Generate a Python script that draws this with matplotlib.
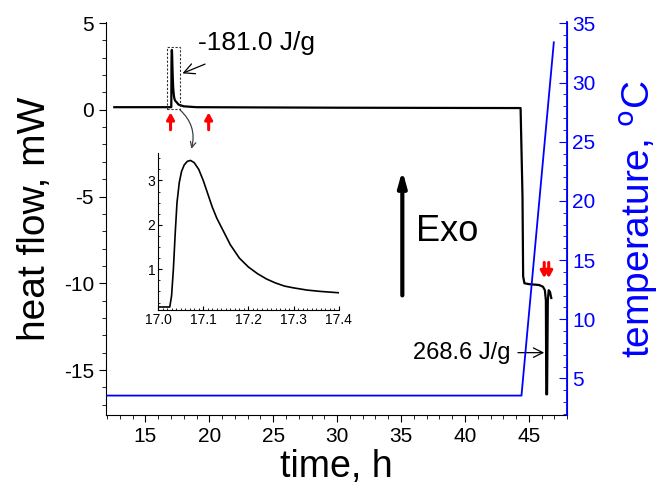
import numpy as np
import matplotlib
matplotlib.use("Agg")
import matplotlib.pyplot as plt
from matplotlib.ticker import MultipleLocator
from matplotlib.patches import Rectangle

plt.rcParams['font.family'] = ['Liberation Sans', 'DejaVu Sans']
plt.rcParams['axes.unicode_minus'] = False

# heat flow (mW) vs time (h)
t_hf = [12.57, 16.5, 17.0, 17.026, 17.030, 17.034, 17.038, 17.042, 17.047, 17.052,
        17.058, 17.065, 17.072, 17.08, 17.09, 17.10, 17.11, 17.12, 17.13, 17.145,
        17.16, 17.18, 17.20, 17.22, 17.24, 17.26, 17.28, 17.30, 17.33, 17.36,
        17.40, 17.6, 18.0, 19.0, 30.0, 44.35, 44.5, 44.55, 44.65, 45.0,
        45.8, 46.1, 46.25, 46.33, 46.36, 46.42, 46.48, 46.55, 46.65, 46.75]
hf = [0.15, 0.15, 0.15, 0.15, 0.4, 1.0, 1.8, 2.5, 2.95, 3.2,
      3.35, 3.43, 3.45, 3.4, 3.25, 3.0, 2.7, 2.4, 2.15, 1.85,
      1.55, 1.25, 1.05, 0.9, 0.78, 0.69, 0.62, 0.58, 0.53, 0.5,
      0.47, 0.3, 0.2, 0.15, 0.12, 0.1, -5.0, -9.6, -10.0, -10.05,
      -10.1, -10.2, -10.4, -11.0, -16.4, -16.4, -11.0, -10.4, -10.5, -10.85]

# temperature (C) vs time (h)
t_temp = [12.0, 44.42, 46.95]
temp = [3.55, 3.55, 33.4]

# integrated heats
label_melt = "-181.0 J/g"
label_cryst = "268.6 J/g"

fig = plt.figure(figsize=(6.65, 4.93), dpi=100)
ax1 = fig.add_axes([0.159, 0.158, 0.694, 0.797])
ax2 = ax1.twinx()

ax1.plot(t_hf, hf, color="black", lw=1.6, zorder=3)
ax2.plot(t_temp, temp, color="blue", lw=1.3)

ax1.set_xlim(11.9, 48)
ax1.set_ylim(-17.6, 5.05)
ax2.set_ylim(1.9, 35.1)

ax1.xaxis.set_major_locator(MultipleLocator(5))
ax1.xaxis.set_minor_locator(MultipleLocator(1))
ax1.yaxis.set_major_locator(MultipleLocator(5))
ax1.yaxis.set_minor_locator(MultipleLocator(1))
ax2.yaxis.set_major_locator(MultipleLocator(5))
ax2.yaxis.set_minor_locator(MultipleLocator(1))

for a in (ax1, ax2):
    a.spines["top"].set_visible(False)
ax2.spines["left"].set_visible(False)
ax2.spines["bottom"].set_visible(False)
ax2.spines["right"].set_color("blue")
ax2.spines["right"].set_linewidth(1.3)

ax1.tick_params(which="major", direction="out", length=5, labelsize=15)
ax1.tick_params(which="minor", direction="out", length=3)
ax2.tick_params(axis="y", which="major", direction="in", length=6, colors="blue", labelsize=15)
ax2.tick_params(axis="y", which="minor", direction="in", length=3, colors="blue")

ax1.set_xlabel("time, h", fontsize=27, labelpad=2)
ax1.set_ylabel("heat flow, mW", fontsize=28, labelpad=8)
ax2.set_ylabel("temperature, $^{\\mathrm{o}}$C", fontsize=28, color="blue", labelpad=16)

# dashed box around the first peak
ax1.add_patch(Rectangle((16.7, 0.06), 1.0, 3.56, fill=False, ls=(0, (2, 1.5)),
                        lw=0.8, color="0.2", zorder=4))

ax1.annotate(label_melt, xy=(17.9, 2.1), xytext=(23.7, 3.85), fontsize=19,
             ha="center", va="center",
             arrowprops=dict(arrowstyle="->", color="black", lw=0.9,
                             shrinkA=12, shrinkB=0))
ax1.annotate("", xy=(18.6, -2.25), xytext=(17.7, 0.0),
             arrowprops=dict(arrowstyle="->", color="0.25", lw=0.9,
                             connectionstyle="arc3,rad=-0.3", shrinkA=0, shrinkB=0))

ax1.annotate(label_cryst, xy=(46.2, -14.0), xytext=(43.6, -14.0), fontsize=17,
             ha="right", va="center",
             arrowprops=dict(arrowstyle="->", color="black", lw=0.9,
                             shrinkA=3, shrinkB=0))

# Exo arrow
ax1.annotate("", xy=(35.1, -3.5), xytext=(35.1, -10.7),
             arrowprops=dict(arrowstyle="-|>,head_width=0.25,head_length=0.9",
                             color="black", lw=3, shrinkA=0, shrinkB=0))
ax1.text(36.2, -7.0, "Exo", fontsize=26, ha="left", va="center")

# red markers
for x0, y_tail, y_tip in [(16.97, -1.15, -0.15), (19.95, -1.15, -0.15),
                          (46.2, -8.8, -9.7), (46.55, -8.8, -9.7)]:
    ax1.annotate("", xy=(x0, y_tip), xytext=(x0, y_tail),
                 arrowprops=dict(arrowstyle="-|>,head_width=0.22,head_length=0.4",
                                 color="red", lw=2.2, shrinkA=0, shrinkB=0), zorder=5)

# inset zoom of the first peak
axin = fig.add_axes([0.2376, 0.371, 0.272, 0.318])
axin.plot(t_hf, hf, color="black", lw=1.2)
axin.set_xlim(17.0, 17.4)
axin.set_ylim(0.08, 3.61)
axin.xaxis.set_major_locator(MultipleLocator(0.1))
axin.xaxis.set_minor_locator(MultipleLocator(0.01))
axin.yaxis.set_major_locator(MultipleLocator(1))
axin.yaxis.set_minor_locator(MultipleLocator(0.25))
axin.spines["top"].set_visible(False)
axin.spines["right"].set_visible(False)
axin.tick_params(which="major", direction="in", length=3, labelsize=10, pad=2)
axin.tick_params(which="minor", direction="in", length=1.5)
axin.set_xticks([17.0, 17.1, 17.2, 17.3, 17.4])
axin.set_xticklabels(["17.0", "17.1", "17.2", "17.3", "17.4"])

fig.savefig("out.png", dpi=100)
